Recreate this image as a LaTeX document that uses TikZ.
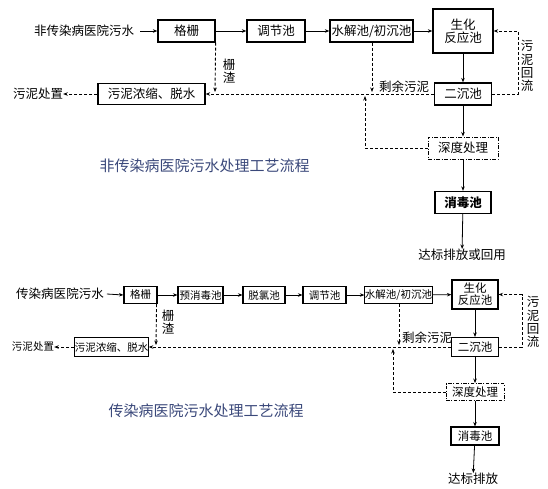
\documentclass[tikz,border=0pt]{standalone}
\usepackage{fontspec}
\setmainfont{Noto Sans CJK SC}
\usepackage{tikz}
\usetikzlibrary{arrows.meta, positioning}
\definecolor{titleblue}{RGB}{58,72,122}

\begin{document}
\begin{tikzpicture}[x=1pt, y=-1pt,
        box/.style={draw, line width=1.3pt, inner sep=0pt, align=center, minimum height=22pt, font=\fontsize{12.5}{13}\selectfont},
        sbox/.style={draw, line width=1.1pt, inner sep=0pt, align=center, minimum height=17pt, font=\fontsize{10.5}{11}\selectfont},
        dbox/.style={box, line width=1pt, dash pattern=on 4pt off 1.5pt on 1pt off 1.5pt},
        sdbox/.style={sbox, line width=0.9pt, dash pattern=on 3.5pt off 1.5pt on 1pt off 1.5pt},
        txt/.style={inner sep=0pt, align=center, font=\fontsize{12.5}{13.3}\selectfont},
        stxt/.style={inner sep=0pt, align=center, font=\fontsize{10.5}{11.3}\selectfont},
        line/.style={line width=0.8pt},
        arr/.style={line, -{Stealth[length=4.5pt, width=3.5pt]}},
        dasharr/.style={line width=0.9pt, dash pattern=on 3pt off 2pt, -{Stealth[length=4.5pt, width=3.5pt]}},
        dashline/.style={line width=0.9pt, dash pattern=on 3pt off 2pt},
        title/.style={inner sep=0pt, text=titleblue, font=\fontsize{15}{16}\selectfont}
    ]
        \useasboundingbox (0,0) rectangle (548,488);

        % ---------- non-infectious hospital ----------
        \node[txt]                       (srcA) at (84,31)    {非传染病医院污水};
        \node[box, minimum width=57pt]   (gsA)  at (186.5,31) {格栅};
        \node[box, minimum width=58pt]   (tjA)  at (276,31)   {调节池};
        \node[box, minimum width=83pt]   (sjA)  at (371.5,31) {水解池/初沉池};
        \node[box, minimum width=60pt, minimum height=44pt] (shA) at (463,31) {生化\\反应池};
        \node[box, minimum width=57pt]   (ecA)  at (463,94)   {二沉池};
        \node[dbox, minimum width=70pt]  (sdA)  at (463,148)  {深度处理};
        \node[box, minimum width=56pt, font=\fontsize{12.5}{13}\selectfont\bfseries] (xdA) at (463,202.5) {消毒池};
        \node[txt]                       (outA) at (462,255)  {达标排放或回用};
        \node[box, minimum width=107pt, minimum height=21pt] (nsA) at (151.5,94) {污泥浓缩、脱水};
        \node[txt]                       (czA)  at (38,94)    {污泥处置};
        \node[title]                     (tA)   at (204.5,166) {非传染病医院污水处理工艺流程};

        % main flow
        \draw[arr] (srcA.east) ++(6,0) -- (gsA.west);
        \draw[arr] (gsA) -- (tjA);
        \draw[arr] (tjA) -- (sjA);
        \draw[arr] (sjA) -- (shA);
        \draw[arr] (shA) -- (ecA);
        \draw[arr] (ecA) -- (sdA);
        \draw[arr] (sdA) -- (xdA);
        \draw[arr] (xdA) -- (outA);

        % sludge paths (dashed)
        \coordinate (rA) at (518,94);
        \draw[dasharr] (ecA.east) -- (rA) |- (shA.east);
        \node[txt] (hlA) at (527,66) {污\\泥\\回\\流};
        \coordinate (sjdA) at (372,92);
        \draw[dasharr] (sjA.south -| sjdA) -- (sjdA);
        \node[txt] (syA) at (404,87) {剩余污泥};
        \coordinate (gsdA) at (215,92);
        \draw[dasharr] (gsA.south east) -- (gsdA);
        \node[txt] (zzA) at (229,71) {栅\\渣};
        \draw[dasharr] (ecA.west) -- (nsA.east);
        \coordinate (upA) at (365,96);
        \draw[dasharr] (sdA.west) -| (upA);
        \draw[dasharr] (nsA.west) -- (czA.east);

        % ---------- infectious hospital ----------
        \node[txt, font=\fontsize{12.5}{13}\selectfont] (srcB) at (60,294) {传染病医院污水};
        \node[sbox, minimum width=33pt]  (gsB)  at (140.5,295) {格栅};
        \node[sbox, minimum width=45pt]  (yxB)  at (200.5,295) {预消毒池};
        \node[sbox, minimum width=42pt]  (tlB)  at (264,295)   {脱氯池};
        \node[sbox, minimum width=43pt]  (tjB)  at (324.5,295) {调节池};
        \node[sbox, minimum width=67pt]  (sjB)  at (398.5,295) {水解池/初沉池};
        \node[sbox, minimum width=46pt, minimum height=29pt, font=\fontsize{11.5}{12}\selectfont] (shB) at (475,294.5) {生化\\反应池};
        \node[sbox, minimum width=47pt, minimum height=19pt, font=\fontsize{11.5}{12}\selectfont] (ecB) at (475,347) {二沉池};
        \node[sdbox, minimum width=58pt, font=\fontsize{11.5}{12}\selectfont] (sdB) at (475,392) {深度处理};
        \node[sbox, minimum width=48pt, minimum height=18pt, font=\fontsize{11.5}{12}\selectfont] (xdB) at (475,436) {消毒池};
        \node[txt]                       (outB) at (473,479) {达标排放};
        \node[sbox, minimum width=73pt, minimum height=19pt] (nsB) at (111.5,347) {污泥浓缩、脱水};
        \node[stxt]                      (czB)  at (33,347)  {污泥处置};
        \node[title]                     (tB)   at (206,411) {传染病医院污水处理工艺流程};

        % main flow
        \draw[arr] (srcB.east) ++(3,0) -- (gsB.west);
        \draw[arr] (gsB) -- (yxB);
        \draw[arr] (yxB) -- (tlB);
        \draw[arr] (tlB) -- (tjB);
        \draw[arr] (tjB) -- (sjB);
        \draw[arr] (sjB) -- (shB);
        \draw[arr] (shB) -- (ecB);
        \draw[arr] (ecB) -- (sdB);
        \draw[arr] (sdB) -- (xdB);
        \draw[arr] (xdB) -- (outB);

        % sludge paths (dashed)
        \coordinate (rB) at (522,347);
        \draw[dasharr] (ecB.east) -- (rB) |- (shB.east);
        \node[txt] (hlB) at (533,322) {污\\泥\\回\\流};
        \coordinate (sjdB) at (399,345);
        \draw[dasharr] (sjB.south -| sjdB) -- (sjdB);
        \node[txt] (syB) at (427,338) {剩余污泥};
        \coordinate (gsdB) at (156,345);
        \draw[dasharr] (gsB.south east) ++(-1,0) -- (gsdB);
        \node[txt] (zzB) at (168,322) {栅\\渣};
        \draw[dasharr] (ecB.west) -- (nsB.east);
        \coordinate (upB) at (393,349);
        \draw[dasharr] (sdB.west) -| (upB);
        \draw[dasharr] (nsB.west) -- (czB.east);
    \end{tikzpicture}
\end{document}
